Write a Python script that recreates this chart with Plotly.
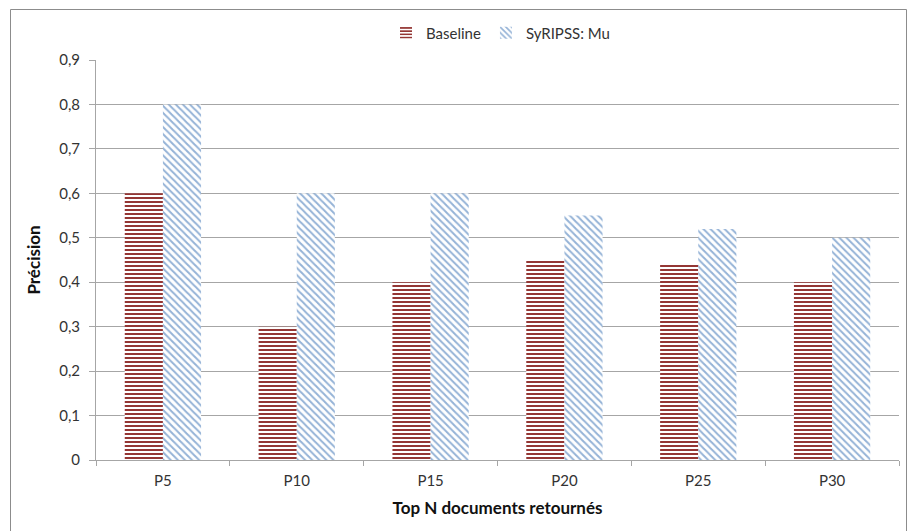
import plotly.graph_objects as go

categories = ["P5", "P10", "P15", "P20", "P25", "P30"]
baseline = [0.60, 0.30, 0.40, 0.45, 0.44, 0.40]
syripss = [0.80, 0.60, 0.60, 0.55, 0.52, 0.50]
yticks = [0, 0.1, 0.2, 0.3, 0.4, 0.5, 0.6, 0.7, 0.8, 0.9]
yticklabels = ["0", "0,1", "0,2", "0,3", "0,4", "0,5", "0,6", "0,7", "0,8", "0,9"]

FONT = "Lato, Carlito, Calibri, sans-serif"
GRID = "#a6a6a6"
TXT = "#333333"

fig = go.Figure()
fig.add_trace(go.Bar(
    x=categories, y=baseline, name="Baseline",
    marker=dict(color="white", line=dict(width=0),
                pattern=dict(shape="-", fgcolor="#943634", bgcolor="white",
                             size=4, solidity=0.5, fillmode="replace")),
))
fig.add_trace(go.Bar(
    x=categories, y=syripss, name="SyRIPSS: Mu",
    marker=dict(color="white", line=dict(width=0),
                pattern=dict(shape="\\", fgcolor="#95b3d7", bgcolor="white",
                             size=5, solidity=0.4, fillmode="replace")),
))

W, H = 908, 531
ml, mr, mt, mb = 96, 9, 60, 71
pw, ph = W - ml - mr, H - mt - mb

def px2paper_x(px):
    return (px - ml) / pw

def px2paper_y(py):
    return (H - mb - py) / ph

fig.add_shape(type="rect", xref="paper", yref="paper",
              x0=px2paper_x(10.5), x1=px2paper_x(906.5),
              y0=px2paper_y(545), y1=px2paper_y(9.5),
              line=dict(color="#8c8c8c", width=1), fillcolor="rgba(0,0,0,0)",
              layer="below")

fig.update_layout(
    width=W, height=H,
    margin=dict(l=ml, r=mr, t=mt, b=mb, autoexpand=False),
    paper_bgcolor="white", plot_bgcolor="white",
    barmode="group", bargap=0.43, bargroupgap=0,
    font=dict(family=FONT, size=15, color=TXT),
    showlegend=True,
    legend=dict(orientation="h", x=px2paper_x(386), xanchor="left",
                y=px2paper_y(33), yanchor="middle",
                font=dict(family=FONT, size=15, color=TXT),
                itemwidth=30, tracegroupgap=0, bgcolor="rgba(0,0,0,0)"),
    xaxis=dict(
        showline=True, linecolor=GRID, linewidth=1,
        ticks="outside", tickson="boundaries", ticklen=5, tickcolor=GRID,
        showgrid=False, ticklabelstandoff=7,
        tickfont=dict(family=FONT, size=15, color=TXT),
        title=dict(text="<b>Top N documents retournés</b>", standoff=14,
                   font=dict(family=FONT, size=17, color="#111111")),
    ),
    yaxis=dict(
        range=[0, 0.9], tickvals=yticks, ticktext=yticklabels,
        showline=True, linecolor=GRID, linewidth=1,
        ticks="outside", ticklen=6, tickcolor=GRID,
        showgrid=True, gridcolor=GRID, gridwidth=1,
        zeroline=False, ticklabelstandoff=6,
        tickfont=dict(family=FONT, size=15, color=TXT),
        title=dict(text="<b>Précision</b>", standoff=14,
                   font=dict(family=FONT, size=17, color="#111111")),
    ),
)

fig.write_html("out.html")
